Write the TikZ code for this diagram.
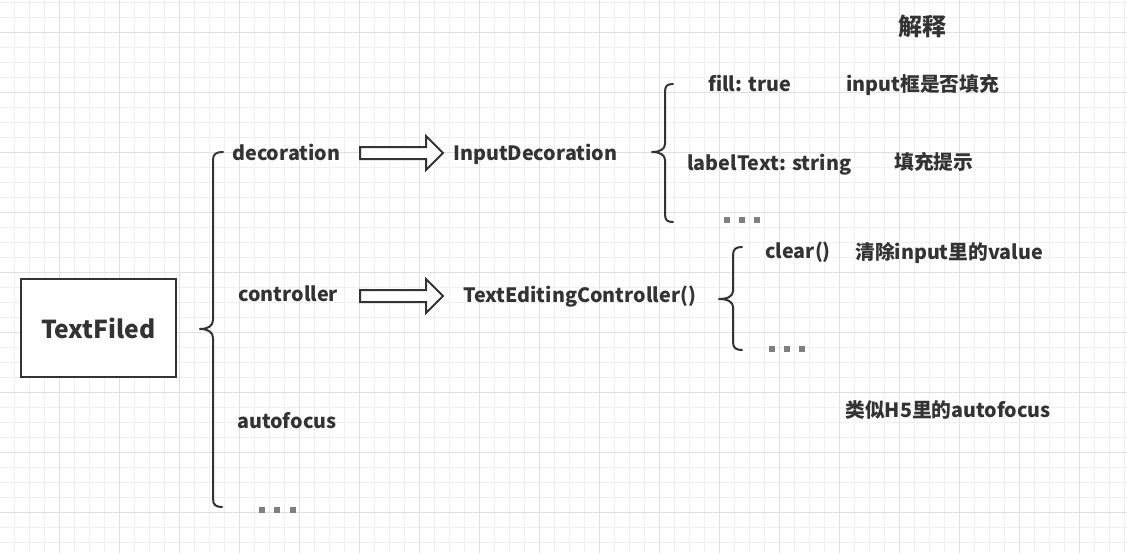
\documentclass[tikz,border=0pt]{standalone}
\usepackage{fontspec}
\setmainfont{Noto Sans CJK SC}
\begin{document}
\begin{tikzpicture}[x=0.75pt,y=-0.75pt,
  lbl/.style={font=\bfseries\fontsize{14.8}{17}\selectfont, text=inkc, inner sep=0pt, anchor=base west},
  cn/.style={font=\bfseries\fontsize{14.8}{17}\selectfont, text=inkc, inner sep=0pt, anchor=base west},
  brc/.style={draw=inkc, line width=1.5pt, line cap=round, line join=round},
  blockarrow/.style={draw=inkc, line width=1.5pt, fill=white, line join=miter},
  dot/.style={fill=dotc}
]
\definecolor{inkc}{HTML}{333333}
\definecolor{dotc}{HTML}{808080}
\definecolor{gminor}{HTML}{F0F0F0}
\definecolor{gmajor}{HTML}{E0E0E0}
\useasboundingbox (0,0) rectangle (1127,553);
\fill[white] (0,0) rectangle (1127,553);
% grid
\foreach \i in {0,...,75} { \draw[gminor, line width=0.75pt] ({14.5+15*\i},0) -- ({14.5+15*\i},553); }
\foreach \i in {0,...,37} { \draw[gminor, line width=0.75pt] (0,{2+15*\i}) -- (1127,{2+15*\i}); }
\foreach \i in {0,...,18} { \draw[gmajor, line width=0.75pt] ({59.5+60*\i},0) -- ({59.5+60*\i},553); }
\foreach \i in {0,...,9} { \draw[gmajor, line width=0.75pt] (0,{32+60*\i}) -- (1127,{32+60*\i}); }

% main box
\node[draw=inkc, line width=1.5pt, fill=white, minimum width=116pt, minimum height=73.5pt, inner sep=0pt,
  font=\bfseries\fontsize{18.5}{22}\selectfont, text=inkc] (tf) at (98.5,328) {TextFiled};

% main brace
\draw[brc] (223,152) .. controls (216,152) and (213,154) .. (213,160) -- (213,320)
  .. controls (213,326) and (208,329) .. (200,329) .. controls (208,329) and (213,332) .. (213,338)
  -- (213,499) .. controls (213,505) and (216,507) .. (222,507);

\node[lbl] (deco) at (232,160) {decoration};
\node[lbl] (ctrl) at (238,301) {controller};
\node[lbl] (auto) at (237,428) {autofocus};
\foreach \x in {262,277,293} { \fill[dot] (\x-3,507) rectangle (\x+3,513); }

% arrows
\draw[blockarrow] (360,147) -- (426,147) -- (426,136) -- (443,153) -- (426,170) -- (426,159) -- (360,159) -- cycle;
\draw[blockarrow] (360,290) -- (426,290) -- (426,279) -- (443,296) -- (426,313) -- (426,302) -- (360,302) -- cycle;

\node[lbl] (idec) at (453,160) {InputDecoration};
\node[lbl] (tec) at (463,302) {TextEditingController()};

% brace 2
\draw[brc] (673,84) .. controls (667,84) and (665,86) .. (665,92) -- (665,144)
  .. controls (665,149) and (660,152) .. (652,152) .. controls (660,152) and (665,155) .. (665,160)
  -- (665,214) .. controls (665,220) and (667,222) .. (673,222);
\node[lbl] (fill) at (708,91) {fill: true};
\node[lbl] (ltxt) at (687,170) {labelText: string};
\foreach \x in {727,742,757} { \fill[dot] (\x-3,217) rectangle (\x+3,223); }

% brace 3
\draw[brc] (742,247) .. controls (736,247) and (733,249) .. (733,255) -- (733,291)
  .. controls (733,296) and (728,299) .. (719,299) .. controls (728,299) and (733,302) .. (733,307)
  -- (733,342) .. controls (733,348) and (736,350) .. (742,350);
\node[lbl] (clr) at (765,258) {clear()};
\foreach \x in {772,787,802} { \fill[dot] (\x-3,346) rectangle (\x+3,352); }

% explanations
\node[cn, font=\bfseries\fontsize{18}{21}\selectfont] (title) at (898,35) {解释};
\node[cn] (e1) at (846,91) {input框是否填充};
\node[cn] (e2) at (894,169) {填充提示};
\node[cn] (e3) at (855,259) {清除input里的value};
\node[cn] (e4) at (845,417) {类似H5里的autofocus};
\end{tikzpicture}
\end{document}
